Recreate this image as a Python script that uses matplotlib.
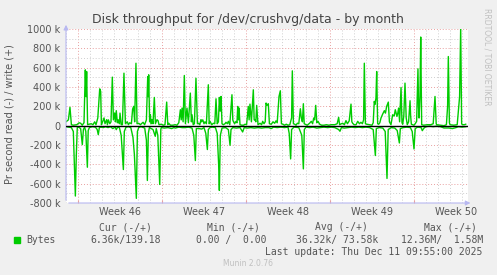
import matplotlib
matplotlib.use("Agg")
import matplotlib.pyplot as plt
import numpy as np
from matplotlib.patches import Rectangle

# time in days from the left edge of the graph, values in k bytes/s
write_day = [
    0.0, 0.2, 0.33, 0.45, 0.6, 0.9, 1.1, 1.22, 1.35, 1.5, 1.61, 1.67, 1.72, 1.8, 1.92,
    2.1, 2.25, 2.39, 2.5, 2.65, 2.81, 2.89, 2.95, 3.05, 3.17, 3.25, 3.39, 3.45, 3.53,
    3.65, 3.75, 3.86, 3.95, 4.06, 4.12, 4.19, 4.28, 4.36, 4.45, 4.5, 4.6, 4.7, 4.83,
    4.95, 5.11, 5.2, 5.31, 5.45, 5.55, 5.64, 5.72, 5.83, 5.92, 6.06, 6.2, 6.33, 6.42,
    6.55, 6.7, 6.81, 6.85, 6.89, 6.97, 7.03, 7.1, 7.17, 7.25, 7.36, 7.45, 7.58, 7.67,
    7.75, 7.94, 8.1, 8.25, 8.39, 8.48, 8.56, 8.7, 8.9, 9.1, 9.25, 9.4, 9.53, 9.6, 9.67,
    9.76, 9.86, 9.95, 10.08, 10.2, 10.36, 10.45, 10.5, 10.6, 10.7, 10.83, 10.95, 11.06,
    11.15, 11.25, 11.3, 11.4, 11.5, 11.58, 11.7, 11.86, 11.93, 12.0, 12.15, 12.28, 12.4,
    12.5, 12.6, 12.7, 12.78, 12.85, 12.92, 13.0, 13.11, 13.25, 13.33, 13.45, 13.53,
    13.65, 13.83, 13.9, 13.94, 14.05, 14.17, 14.25, 14.31, 14.37, 14.42, 14.5, 14.65,
    14.8, 14.92, 15.05, 15.19, 15.26, 15.33, 15.45, 15.61, 15.68, 15.75, 15.82, 15.89,
    16.0, 16.17, 16.3, 16.39, 16.5, 16.6, 16.67, 16.75, 16.86, 16.95, 17.11, 17.25,
    17.39, 17.5, 17.6, 17.75, 17.86, 17.95, 18.08, 18.2, 18.36, 18.5, 18.65, 18.8,
    18.86, 18.95, 19.06, 19.17, 19.28, 19.4, 19.53, 19.61, 19.7, 19.78, 19.85, 19.94,
    20.1, 20.3, 20.44, 20.55, 20.64, 20.72, 20.81, 20.9, 21.0, 21.14, 21.3, 21.5, 21.7,
    21.9, 22.11, 22.39, 22.6, 22.72, 22.8, 22.95, 23.06, 23.2, 23.33, 23.45, 23.6,
    23.75, 23.82, 23.89, 24.0, 24.17, 24.31, 24.45, 24.58, 24.7, 24.8, 24.86, 24.95,
    25.06, 25.28, 25.5, 25.6, 25.69, 25.75, 25.83, 25.89, 25.97, 26.06, 26.15, 26.25,
    26.39, 26.53, 26.62, 26.72, 26.86, 26.95, 27.08, 27.22, 27.35, 27.44, 27.58, 27.65,
    27.72, 27.8, 27.92, 28.0, 28.06, 28.15, 28.25, 28.35, 28.44, 28.55, 28.67, 28.72,
    28.78, 28.9, 29.0, 29.1, 29.22, 29.33, 29.38, 29.42, 29.5, 29.56, 29.64, 29.8,
    30.11, 30.4, 30.6, 30.75, 30.85, 30.89, 31.2, 31.5, 31.7, 31.8, 31.86, 31.95, 32.0,
    32.3, 32.6, 32.8, 32.89, 32.97, 33.03, 33.2, 33.31,
]
write_k = [
    40, 60, 190, 10, 5, 10, 30, 25, 5, 30, 577, 300, 560, 10, 15,
    20, 10, 40, 10, 80, 381, 354, 10, 40, 80, 20, 62, 10, 60,
    20, 40, 502, 60, 130, 40, 155, 30, 60, 20, 130, 10, 10, 543,
    20, 40, 10, 30, 20, 170, 200, 40, 646, 20, 25, 10, 25, 35,
    10, 60, 508, 300, 526, 40, 113, 20, 62, 20, 292, 20, 62, 52,
    10, 15, 5, 10, 244, 10, 25, 5, 5, 10, 5, 30, 165, 60, 182,
    40, 519, 20, 182, 30, 337, 40, 113, 10, 20, 491, 20, 25,
    10, 62, 40, 60, 20, 40, 20, 423, 20, 45, 10, 25, 20,
    278, 20, 40, 292, 150, 302, 20, 10, 20, 35, 20, 45,
    10, 320, 60, 45, 20, 45, 30, 199, 60, 182, 10, 5,
    5, 15, 10, 199, 60, 223, 40, 371, 60, 62, 40, 210,
    10, 25, 10, 45, 20, 40, 234, 210, 227, 20, 15, 40,
    25, 50, 30, 302, 361, 20, 15, 5, 15, 5, 10, 80,
    567, 20, 15, 5, 25, 20, 175, 79, 40, 227, 20, 15,
    5, 25, 45, 20, 79, 60, 210, 30, 45, 15, 5, 5, 10,
    5, 10, 10, 20, 86, 10, 20, 25, 10, 52, 20, 50,
    223, 40, 25, 10, 10, 45, 20, 35, 20, 60, 646, 20,
    15, 10, 5, 30, 251, 220, 285, 560, 20, 15, 30, 79,
    120, 155, 130, 199, 244, 40, 10, 113, 100, 165, 96, 130,
    182, 40, 395, 30, 15, 100, 440, 80, 10, 40, 258, 100,
    15, 10, 5, 20, 45, 588, 200, 79, 300, 917, 10, 5,
    10, 10, 20, 302, 20, 10, 5, 0, 10, 200, 715, 30, 10,
    5, 10, 300, 1010, 20, 10, 10, 15,
]

read_day = [
    0.0, 0.2, 0.45, 0.61, 0.7, 0.78, 0.86, 0.94, 1.05, 1.22, 1.36, 1.45, 1.55, 1.65,
    1.78, 1.85, 1.95, 2.2, 2.45, 2.6, 2.69, 2.78, 2.9, 3.1, 3.3, 3.5, 3.7, 3.9, 4.1,
    4.19, 4.3, 4.45, 4.6, 4.78, 4.86, 5.0, 5.2, 5.4, 5.58, 5.7, 5.86, 5.95, 6.06, 6.25,
    6.56, 6.7, 6.78, 6.86, 6.95, 7.1, 7.25, 7.44, 7.52, 7.65, 7.81, 7.9, 7.94, 8.2, 8.5,
    8.8, 9.0, 9.11, 9.4, 9.7, 9.95, 10.2, 10.5, 10.65, 10.78, 10.86, 11.06, 11.31, 11.5,
    11.65, 11.78, 11.86, 12.0, 12.2, 12.45, 12.6, 12.72, 12.78, 12.86, 13.0, 13.3,
    13.53, 13.67, 13.75, 13.9, 14.2, 14.5, 14.72, 14.85, 15.1, 15.4, 15.7, 16.0, 16.3,
    16.6, 16.9, 17.1, 17.3, 17.6, 17.9, 18.2, 18.5, 18.6, 18.72, 18.8, 19.0, 19.4,
    19.65, 19.78, 19.86, 20.0, 20.3, 20.6, 20.9, 21.2, 21.5, 21.8, 22.1, 22.4, 22.72,
    22.83, 22.95, 23.2, 23.5, 23.8, 24.1, 24.4, 24.7, 25.0, 25.3, 25.6, 25.78, 25.86,
    26.1, 26.4, 26.6, 26.75, 26.85, 27.1, 27.4, 27.6, 27.78, 27.86, 28.1, 28.4, 28.7,
    28.85, 29.0, 29.1, 29.3, 29.6, 29.69, 29.83, 30.0, 30.3, 30.6, 30.9, 31.2, 31.5,
    31.9, 32.2, 32.5, 32.7, 33.0, 33.31,
]
read_k = [
    10, 15, 20, 60, 400, 728, 300, 20, 15, 30, 196, 40, 15, 60,
    430, 50, 20, 10, 15, 40, 93, 20, 15, 20, 10, 20, 10, 30, 15,
    41, 15, 20, 100, 454, 60, 15, 10, 20, 120, 300, 752, 60, 20, 10,
    25, 150, 567, 80, 20, 30, 40, 110, 30, 100, 608, 40, 20, 25, 20,
    30, 20, 25, 15, 20, 20, 15, 25, 100, 361, 30, 30, 35, 20,
    80, 247, 40, 20, 15, 20, 80, 400, 670, 100, 25, 20,
    41, 203, 40, 20, 25, 20, 65, 20, 25, 20, 25, 20, 25,
    20, 20, 30, 15, 20, 15, 20, 15, 80, 344, 40, 15, 20,
    100, 447, 40, 15, 20, 15, 25, 20, 15, 20, 15, 20, 40,
    58, 20, 25, 20, 15, 20, 15, 20, 15, 20, 40, 309, 30,
    20, 25, 60, 546, 40, 20, 25, 50, 179, 30, 20, 15, 20,
    60, 241, 30, 15, 20, 52, 25, 10, 5, 10, 5, 10, 24,
    24, 30, 20, 10, 15, 10,
]

y_ticks = [-800, -600, -400, -200, 0, 200, 400, 600, 800, 1000]
y_labels = ["-800 k", "-600 k", "-400 k", "-200 k", "0",
            "200 k", "400 k", "600 k", "800 k", "1000 k"]
week_starts = [1, 8, 15, 22, 29]
week_labels = ["Week 46", "Week 47", "Week 48", "Week 49", "Week 50"]

legend_heads = ["Cur (-/+)", "Min (-/+)", "Avg (-/+)", "Max (-/+)"]
legend_vals = ["6.36k/139.18", "0.00 /  0.00", "36.32k/ 73.58k", "12.36M/  1.58M"]

W, H = 497, 275
BG = "#F0F0F0"
TXT = "#555555"
GREEN = "#00CC00"

fig = plt.figure(figsize=(W / 100, H / 100), dpi=100, facecolor=BG)
left, right, top, bottom = 66, 468, 29, 203
ax = fig.add_axes([left / W, 1 - bottom / H, (right - left) / W, (bottom - top) / H])
ax.set_facecolor("white")
ax.set_xlim(0, 33.5)
ax.set_ylim(-800, 1000)

# grid: grey every day / 100k, red every week / 200k
dots = (0, (1, 2))
for d in np.arange(0, 33.5, 1.0):
    if d not in week_starts:
        ax.axvline(d, color="#CFCFCF", lw=0.7, ls=dots, zorder=1)
for d in week_starts:
    ax.axvline(d, color="#E8A0A0", lw=0.7, ls=dots, zorder=1)
for v in range(-700, 1000, 200):
    ax.axhline(v, color="#CFCFCF", lw=0.7, ls=dots, zorder=1)
for v in y_ticks:
    ax.axhline(v, color="#E8A0A0", lw=0.7, ls=dots, zorder=1)

ax.plot(write_day, write_k, color=GREEN, lw=1.0, zorder=3)
ax.plot(read_day, -np.array(read_k), color=GREEN, lw=1.0, zorder=3)
ax.axhline(0, color="black", lw=1.0, zorder=4)

for s in ax.spines.values():
    s.set_visible(False)
ax.set_yticks(y_ticks)
ax.set_yticklabels(y_labels)
ax.set_xticks(week_starts)
ax.set_xticklabels([])
ax.tick_params(axis="y", length=0, pad=4, labelsize=7, labelcolor=TXT)
ax.tick_params(axis="x", length=2, color="#E8A0A0", direction="in")

# axis arrows
axis_col = "#B8B8F0"
ax.annotate("", xy=(1.013, 0), xytext=(0, 0), xycoords="axes fraction",
            arrowprops=dict(arrowstyle="-|>", color=axis_col, lw=0.8, mutation_scale=7))
ax.annotate("", xy=(0, 1.04), xytext=(0, 0), xycoords="axes fraction",
            arrowprops=dict(arrowstyle="-|>", color=axis_col, lw=0.8, mutation_scale=7))

for d, lab in zip(week_starts, week_labels):
    ax.text(d + 3.5, -0.05, lab, transform=ax.get_xaxis_transform(),
            ha="center", va="center", fontsize=7, color=TXT)

fig.text(10 / W, 1 - 114 / H, "Pr second read (-) / write (+)", rotation=90,
         ha="center", va="center", fontsize=7, color=TXT)
fig.text(248 / W, 1 - 19 / H, "Disk throughput for /dev/crushvg/data - by month",
         ha="center", va="center", fontsize=9, color="#444444")
fig.text(487 / W, 1 - 8 / H, "RRDTOOL / TOBI OETIKER", rotation=270,
         ha="center", va="top", fontsize=5.5, color="#C0C0C0")

mono = dict(family="DejaVu Sans Mono", fontsize=7, color=TXT, va="center")
for x, s in zip([152, 260, 368, 477], legend_heads):
    fig.text(x / W, 1 - 227 / H, s, ha="right", **mono)
fig.patches.append(Rectangle((14 / W, 1 - 243 / H), 6 / W, 6 / H,
                             transform=fig.transFigure, color=GREEN))
fig.text(26 / W, 1 - 240 / H, "Bytes", ha="left", **mono)
for x, s in zip([161, 266, 378, 483], legend_vals):
    fig.text(x / W, 1 - 240 / H, s, ha="right", **mono)
fig.text(482 / W, 1 - 252 / H, "Last update: Thu Dec 11 09:55:00 2025", ha="right", **mono)
fig.text(248 / W, 1 - 263 / H, "Munin 2.0.76", ha="center", va="center",
         fontsize=5.5, color="#C0C0C0")

fig.savefig("out.png", dpi=100, facecolor=BG)
